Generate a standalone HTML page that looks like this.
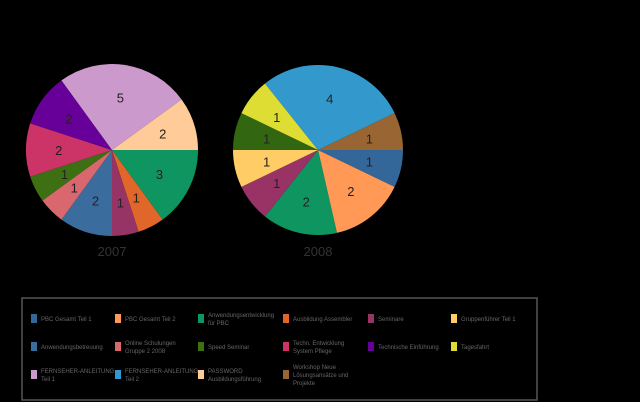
<!DOCTYPE html>
<html><head><meta charset="utf-8"><style>
html,body{margin:0;padding:0;background:#000;}
svg{display:block}
text{font-family:"Liberation Sans",sans-serif}
.l{font-size:6px;fill:#666}
</style></head><body>
<svg width="640" height="402" viewBox="0 0 640 402" xmlns="http://www.w3.org/2000/svg">
<rect width="640" height="402" fill="#000"/>
<g id="p1"></g><g id="p2"></g>
<text x="112" y="256" text-anchor="middle" font-size="13" fill="#333">2007</text>
<text x="318" y="256" text-anchor="middle" font-size="13" fill="#333">2008</text>
<rect x="22" y="298" width="515" height="102" fill="none" stroke="#555" stroke-width="1.5"/>
<g id="leg"></g>
</svg>
<script>
function pie(id,cx,cy,r,data){
 var g=document.getElementById(id),tot=0;data.forEach(d=>tot+=d[0]);
 var a=0,s='';
 data.forEach(d=>{var a2=a+d[0]/tot*2*Math.PI;
  var x1=cx+r*Math.cos(a),y1=cy+r*Math.sin(a),x2=cx+r*Math.cos(a2),y2=cy+r*Math.sin(a2);
  s+='<path d="M'+cx+','+cy+'L'+x1+','+y1+'A'+r+','+r+' 0 '+((a2-a)>Math.PI?1:0)+' 1 '+x2+','+y2+'Z" fill="'+d[1]+'"/>';
  var m=(a+a2)/2,lr=r*0.62;
  s+='<text x="'+(cx+lr*Math.cos(m))+'" y="'+(cy+lr*Math.sin(m)+5)+'" text-anchor="middle" font-size="13" fill="#222">'+d[0]+'</text>';
  a=a2;});
 g.innerHTML=s;}
pie('p1',112,150,86,[[3,'#0f9660'],[1,'#e0662a'],[1,'#963466'],[2,'#3b6c9e'],[1,'#d9686e'],[1,'#3d7012'],[2,'#cc3366'],[2,'#660099'],[5,'#cc99cc'],[2,'#ffcc99']]);
pie('p2',318,150,85,[[1,'#336699'],[2,'#ff9955'],[2,'#0f9660'],[1,'#993366'],[1,'#ffcc66'],[1,'#336611'],[1,'#dddd33'],[4,'#3399cc'],[1,'#996633']]);
var L=[['#336699','PBC Gesamt Teil 1'],['#ff9955','PBC Gesamt Teil 2'],['#0f9660','Anwendungsentwicklung','für PBC'],['#e0662a','Ausbildung Assembler'],['#963466','Seminare'],['#ffcc66','Gruppenführer Teil 1'],
['#3b6c9e','Anwendungsbetreuung'],['#d9686e','Online Schulungen','Gruppe 2 2008'],['#3d7012','Speed Seminar'],['#cc3366','Techn. Entwicklung','System Pflege'],['#660099','Technische Einführung'],['#dddd33','Tagesfahrt'],
['#cc99cc','FERNSEHER-ANLEITUNG','Teil 1'],['#3399cc','FERNSEHER-ANLEITUNG','Teil 2'],['#ffcc99','PASSWORD','Ausbildungsführung'],['#996633','Workshop Neue','Lösungsansätze und','Projekte']];
var xs=[28,112,195,280,365,448],ys=[319,347,375],s='';
L.forEach((l,i)=>{var x=xs[i%6],y=ys[Math.floor(i/6)];
 s+='<rect x="'+(x+3)+'" y="'+(y-5)+'" width="6" height="9" fill="'+l[0]+'"/>';
 var n=l.length-1,y0=y+2-(n-1)*4;
 for(var k=1;k<=n;k++)s+='<text class="l" x="'+(x+13)+'" y="'+(y0+(k-1)*8)+'">'+l[k]+'</text>';});
document.getElementById('leg').innerHTML=s;
</script>
</body></html>
